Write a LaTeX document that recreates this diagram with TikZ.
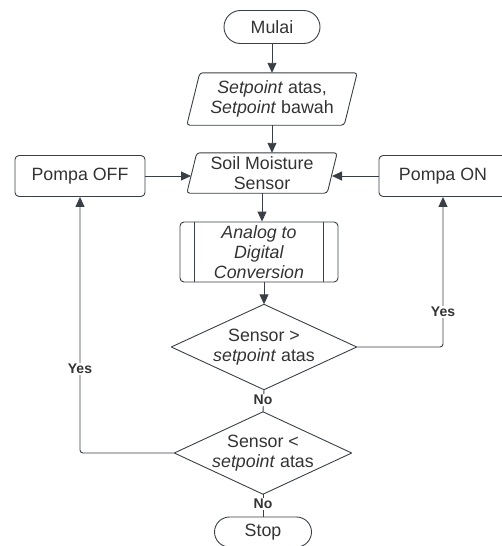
\documentclass[tikz,border=0pt]{standalone}
\usepackage{fontspec}
\setmainfont{Liberation Sans}
\usetikzlibrary{arrows.meta}
\definecolor{ln}{HTML}{3A3F47}
\definecolor{tx}{HTML}{333333}
\begin{document}
\begin{tikzpicture}[x=1pt,y=-1pt,
  every node/.style={text=tx, font=\fontsize{17.8}{20}\selectfont, align=center, inner sep=0pt},
  conn/.style={draw=ln, line width=0.9pt},
  arr/.style={conn, -{Triangle[length=10pt,width=9pt]}},
  box/.style={draw=ln, line width=0.9pt, rounded corners=4pt},
  lbl/.style={font=\fontsize{14}{15}\selectfont\bfseries, fill=white, inner sep=1.5pt}]
\useasboundingbox (0,0) rectangle (502,546);
% nodes
\node[box, rounded corners=16.5pt, minimum width=96pt, minimum height=33pt] (mulai) at (272,27) {Mulai};
\node[minimum width=170pt, minimum height=52pt] (sp) at (272,99) {\textit{Setpoint} atas,\\\textit{Setpoint} bawah};
\draw[box, rounded corners=3pt] ([xshift=13pt]sp.north west) -- (sp.north east) -- ([xshift=-13pt]sp.south east) -- (sp.south west) -- cycle;
\node[minimum width=150pt, minimum height=40pt] (sm) at (262,173) {Soil Moisture\\Sensor};
\draw[box, rounded corners=3pt] ([xshift=10pt]sm.north west) -- (sm.north east) -- ([xshift=-10pt]sm.south east) -- (sm.south west) -- cycle;
\coordinate (smL) at (191,176);
\coordinate (smR) at (332,176);
\node[box, minimum width=130pt, minimum height=41pt] (poff) at (80,176) {Pompa OFF};
\node[box, minimum width=128pt, minimum height=41pt] (pon) at (443,176) {Pompa ON};
\node[box, minimum width=158pt, minimum height=60pt] (adc) at (259,252) {\textit{Analog to}\\\textit{Digital}\\\textit{Conversion}};
\draw[conn] ([xshift=15pt]adc.north west) -- ([xshift=15pt]adc.south west);
\draw[conn] ([xshift=-15pt]adc.north east) -- ([xshift=-15pt]adc.south east);
\node[minimum width=185pt, minimum height=85pt] (d1) at (264,347) {Sensor >\\\textit{setpoint} atas};
\draw[conn, line join=round] (d1.north) -- (d1.east) -- (d1.south) -- (d1.west) -- cycle;
\node[minimum width=177pt, minimum height=82pt] (d2) at (263,453) {Sensor <\\\textit{setpoint} atas};
\draw[conn, line join=round] (d2.north) -- (d2.east) -- (d2.south) -- (d2.west) -- cycle;
\node[box, rounded corners=15pt, minimum width=97pt, minimum height=30pt] (stop) at (263,532) {Stop};
% connectors
\draw[arr] (mulai.south) -- (sp.north);
\draw[arr] (sp.south) -- (sp.south |- sm.north);
\draw[arr] (poff.east |- smL) -- (smL);
\draw[arr] (pon.west |- smR) -- (smR);
\draw[arr] (sm.south) -- (sm.south |- adc.north);
\draw[arr] (adc.south -| d1.north) -- (d1.north);
\draw[arr, rounded corners=3pt] (d1.east) -| (pon.south);
\draw[arr, rounded corners=3pt] (d2.west) -| (poff.south);
\draw[conn] (d1.south) -- (d2.north);
\draw[conn] (d2.south) -- (stop.north);
% labels
\node[lbl] (yes1) at (443,312) {Yes};
\node[lbl] (yes2) at (80,369) {Yes};
\node[lbl] (no1) at (263,400) {No};
\node[lbl] (no2) at (263,504) {No};
\end{tikzpicture}
\end{document}
